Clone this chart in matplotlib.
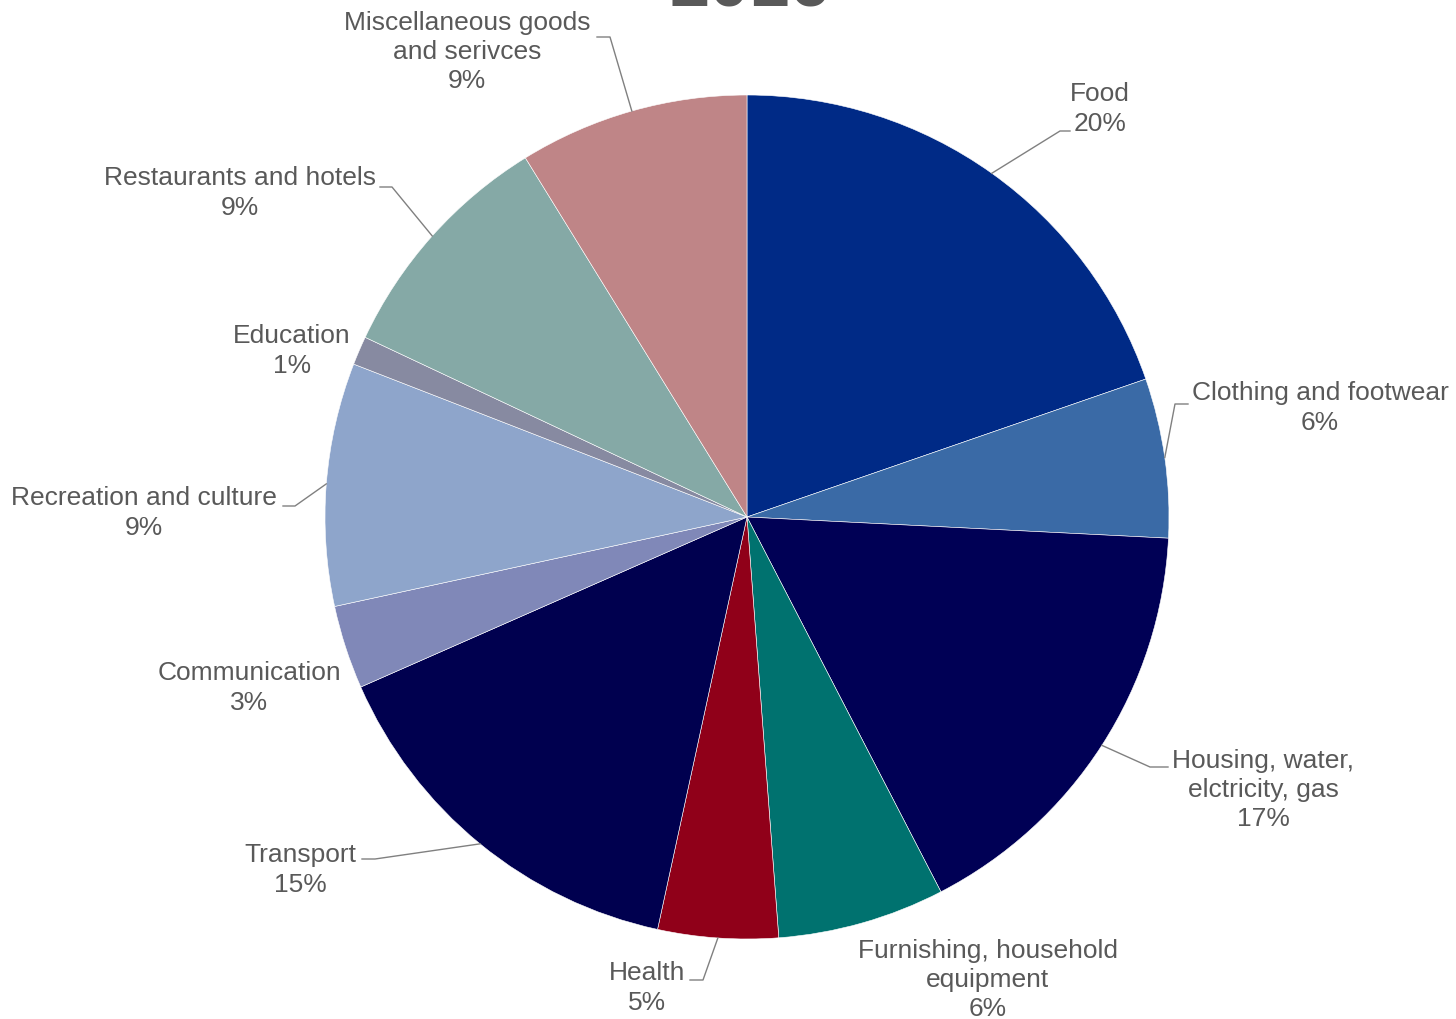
import numpy as np
import matplotlib
matplotlib.use("Agg")
import matplotlib.pyplot as plt

plt.rcParams['font.family'] = ['Liberation Sans', 'DejaVu Sans']

categories = ["Food", "Clothing and footwear", "Housing, water,\nelctricity, gas",
              "Furnishing, household\nequipment", "Health", "Transport", "Communication",
              "Recreation and culture", "Education", "Restaurants and hotels",
              "Miscellaneous goods\nand serivces"]
shares = [19.7, 6.1, 16.6, 6.4, 4.6, 15.0, 3.2, 9.3, 1.1, 9.2, 8.8]
colors = ["#002A86", "#3A6AA6", "#000055", "#00726F", "#900019", "#00004F",
          "#8088B8", "#8EA5CB", "#878AA1", "#85A9A6", "#BF8587"]
title = "2016"

# label centres and leader elbows, in figure pixels (x from left, y from top)
label_px = [(1100, 109), (1320, 408), (1263, 790), (988, 980), (647, 988), (300, 870),
            (249, 688), (144, 513), (292, 351), (240, 193), (467, 52)]
leader_px = [((1060, 132), (1070, 132)), ((1175, 405), (1188, 405)),
             ((1150, 768), (1168, 768)), None, ((703, 981), (690, 981)),
             ((375, 860), (362, 860)), None, ((295, 507), (283, 507)), None,
             ((392, 188), (380, 188)), ((610, 38), (597, 38))]

W, H = 1456, 1020
cx, cy, R = 747, 518, 422

def to_data(px, py):
    return (px - cx) / R, (cy - py) / R

fig = plt.figure(figsize=(W / 100, H / 100), dpi=100)
ax = fig.add_axes([0, 0, 1, 1])
wedges, _ = ax.pie(shares, colors=colors, startangle=90, counterclock=False, radius=1,
                   wedgeprops=dict(edgecolor='white', linewidth=0.4))
ax.set_xlim(-cx / R, (W - cx) / R)
ax.set_ylim(-(H - cy) / R, cy / R)
ax.axis('off')

total = sum(shares)
for w, name, val, lp, ld in zip(wedges, categories, shares, label_px, leader_px):
    pct = round(val / total * 100)
    ax.text(*to_data(*lp), f"{name}\n{pct}%", ha='center', va='center',
            fontsize=19, color='#595959', linespacing=1.28)
    if ld is None:
        continue
    ang = np.deg2rad((w.theta1 + w.theta2) / 2)
    sx, sy = np.cos(ang), np.sin(ang)
    ex, ey = to_data(*ld[0])
    hx, hy = to_data(*ld[1])
    ax.plot([sx, ex, hx], [sy, ey, hy], color='#808080', linewidth=1)

# title sits mostly above the top edge, as in the source image
fig.text(750 / W, 1 - 6 / H, title, ha='center', va='baseline', fontsize=52,
         fontweight='bold', color='#595959')

fig.savefig("out.png", dpi=100)
